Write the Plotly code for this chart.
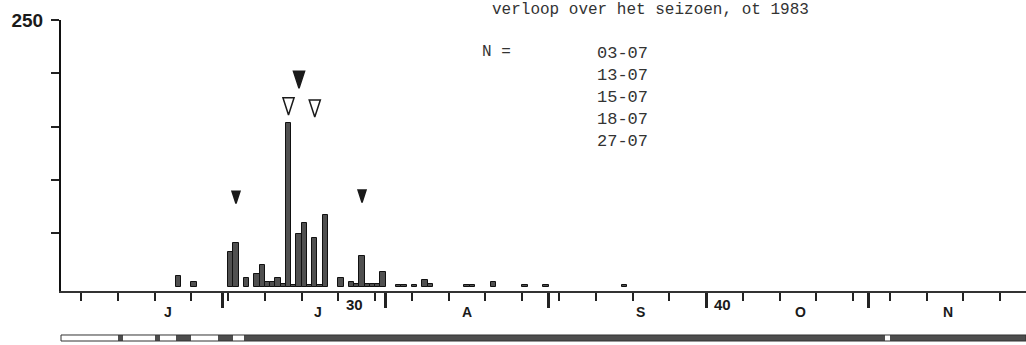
import pandas as pd
import plotly.graph_objects as go

# -------------------------------------------------------
# data, 1983 season
# -------------------------------------------------------
bar_dates = ["1983-06-22", "1983-06-25", "1983-07-02", "1983-07-03", "1983-07-05",
             "1983-07-07", "1983-07-08", "1983-07-09", "1983-07-10", "1983-07-11",
             "1983-07-12", "1983-07-13", "1983-07-14", "1983-07-15", "1983-07-16",
             "1983-07-17", "1983-07-18", "1983-07-19", "1983-07-20", "1983-07-23",
             "1983-07-25", "1983-07-26", "1983-07-27", "1983-07-28", "1983-07-29",
             "1983-07-30", "1983-07-31", "1983-08-03", "1983-08-04", "1983-08-06",
             "1983-08-08", "1983-08-09", "1983-08-16", "1983-08-17", "1983-08-21",
             "1983-08-27", "1983-08-31", "1983-09-15"]
bar_counts = [10, 4, 33, 41, 8,
              12, 20, 4, 4, 8,
              3, 153, 2, 49, 60,
              2, 46, 2, 67, 8,
              4, 3, 29, 3, 3,
              3, 14, 2, 2, 2,
              6, 3, 2, 2, 4,
              2, 1.5, 2]

# markers above the bars (N = ...), y = tip of the triangle
mark_dates = ["03-07", "13-07", "15-07", "18-07", "27-07"]
mark_y = [78, 161, 186, 159, 79]
mark_filled = [True, False, True, False, True]
mark_big = [False, True, True, True, False]

# strip below the axis: dark spans (inclusive), gaps inside them
strip_dark = [("1983-06-11", "1983-06-11"), ("1983-06-18", "1983-06-18"),
              ("1983-06-22", "1983-06-24"), ("1983-06-30", "1983-07-02"),
              ("1983-07-05", "1983-11-30")]
strip_gap = ["1983-11-04"]

week_ticks = pd.date_range("1983-06-04", "1983-11-30", freq="7D")
month_ticks = ["1983-07-01", "1983-08-01", "1983-09-01", "1983-10-01", "1983-11-01"]

month_labels = ["J", "J", "A", "S", "O", "N"]
month_label_x = ["1983-06-20 13:00", "1983-07-19 03:00", "1983-08-16 12:00",
                 "1983-09-18 10:00", "1983-10-18 22:00", "1983-11-16 02:00"]
week_labels = ["30", "40"]
week_label_x = ["1983-07-23", "1983-10-01"]

HALF = pd.Timedelta(hours=12)
DAY_MS = 86400000

# -------------------------------------------------------
fig = go.Figure()

fig.add_trace(go.Bar(
    x=pd.to_datetime(bar_dates) + HALF, y=bar_counts, width=DAY_MS,
    marker=dict(color="#505050", line=dict(color="#111111", width=1)),
    xaxis="x", yaxis="y", showlegend=False,
))

for d, y, filled, big in zip(mark_dates, mark_y, mark_filled, mark_big):
    day, mon = d.split("-")
    fig.add_trace(go.Scatter(
        x=[pd.Timestamp(f"1983-{mon}-{day}") + HALF], y=[y], mode="markers",
        marker=dict(symbol="arrow", angle=180, size=18 if big else 13,
                    color="#1a1a1a" if filled else "white",
                    line=dict(color="#1a1a1a", width=1.5)),
        xaxis="x", yaxis="y", showlegend=False,
    ))

# strip, one cell per day
days = pd.date_range("1983-05-31", "1983-11-30", freq="D")
dark = set()
for a, b in strip_dark:
    dark.update(pd.date_range(a, b, freq="D"))
dark -= set(pd.to_datetime(strip_gap))
fig.add_trace(go.Bar(
    x=days + HALF, y=[1] * len(days), width=DAY_MS,
    marker=dict(color=["#4d4d4d" if d in dark else "white" for d in days], line=dict(width=0)),
    xaxis="x", yaxis="y2", showlegend=False,
))

fig.add_shape(type="rect", xref="x domain", yref="y2 domain", x0=0, x1=1, y0=0, y1=1,
              line=dict(color="#333333", width=1))

# -------------------------------------------------------
fig.update_layout(
    width=1026, height=345,
    margin=dict(l=61, r=0, t=20, b=4, autoexpand=False),
    paper_bgcolor="white", plot_bgcolor="white",
    bargap=0,
    xaxis=dict(
        type="date", range=["1983-05-31 04:30", "1983-11-30 21:40"],
        anchor="y", showgrid=False, zeroline=False, automargin=False,
        showline=True, linecolor="#333333", linewidth=2,
        tickmode="array", tickvals=week_ticks, showticklabels=False,
        ticks="outside", ticklen=8, tickwidth=1.5, tickcolor="#222222",
        minor=dict(tickmode="array", tickvals=month_ticks, ticks="outside",
                   ticklen=15, tickwidth=2.5, tickcolor="#222222"),
    ),
    yaxis=dict(
        domain=[0.1558, 1], range=[-4, 250], showgrid=False, zeroline=False,
        automargin=False,
        showline=True, linecolor="#111111", linewidth=2,
        tickmode="array", tickvals=[50, 100, 150, 200, 250],
        ticktext=["", "", "", "", "250"],
        ticks="outside", ticklen=8, tickwidth=1.5, tickcolor="#222222",
        ticklabelstandoff=4,
        tickfont=dict(family="Liberation Sans", size=19, color="#1a1a1a", weight="bold"),
    ),
    yaxis2=dict(domain=[0, 0.0187], range=[0, 1], anchor="x", visible=False),
)

TYPE = "Liberation Mono"
fig.add_annotation(text="verloop over het seizoen, ot 1983", xref="paper", yref="paper",
                   x=0.4446, y=1.031, xanchor="left", yanchor="middle", showarrow=False,
                   font=dict(family=TYPE, size=16, color="#333333"))
fig.add_annotation(text="N =", xref="paper", yref="paper",
                   x=0.434, y=0.900, xanchor="left", yanchor="middle", showarrow=False,
                   font=dict(family=TYPE, size=16, color="#333333"))
fig.add_annotation(text="<br>".join(mark_dates), xref="paper", yref="paper",
                   x=0.553, y=0.93, xanchor="left", yanchor="top", align="left", showarrow=False,
                   font=dict(family=TYPE, size=17, color="#333333"))

for t, x in zip(month_labels, month_label_x):
    fig.add_annotation(text=t, x=x, xref="x", yref="paper", y=0.0903, yanchor="middle",
                       showarrow=False,
                       font=dict(family="Liberation Sans", size=14, color="#1a1a1a", weight="bold"))
for t, x in zip(week_labels, week_label_x):
    fig.add_annotation(text=t, x=x, xref="x", xanchor="left", xshift=6, yref="paper",
                       y=0.115, yanchor="middle", showarrow=False,
                       font=dict(family="Liberation Sans", size=15, color="#1a1a1a", weight="bold"))

# the page body has a default 8px margin; drop it so the figure fills the window
fig.write_html("out.html", config={"displayModeBar": False},
               post_script="document.body.style.margin = '0';")
